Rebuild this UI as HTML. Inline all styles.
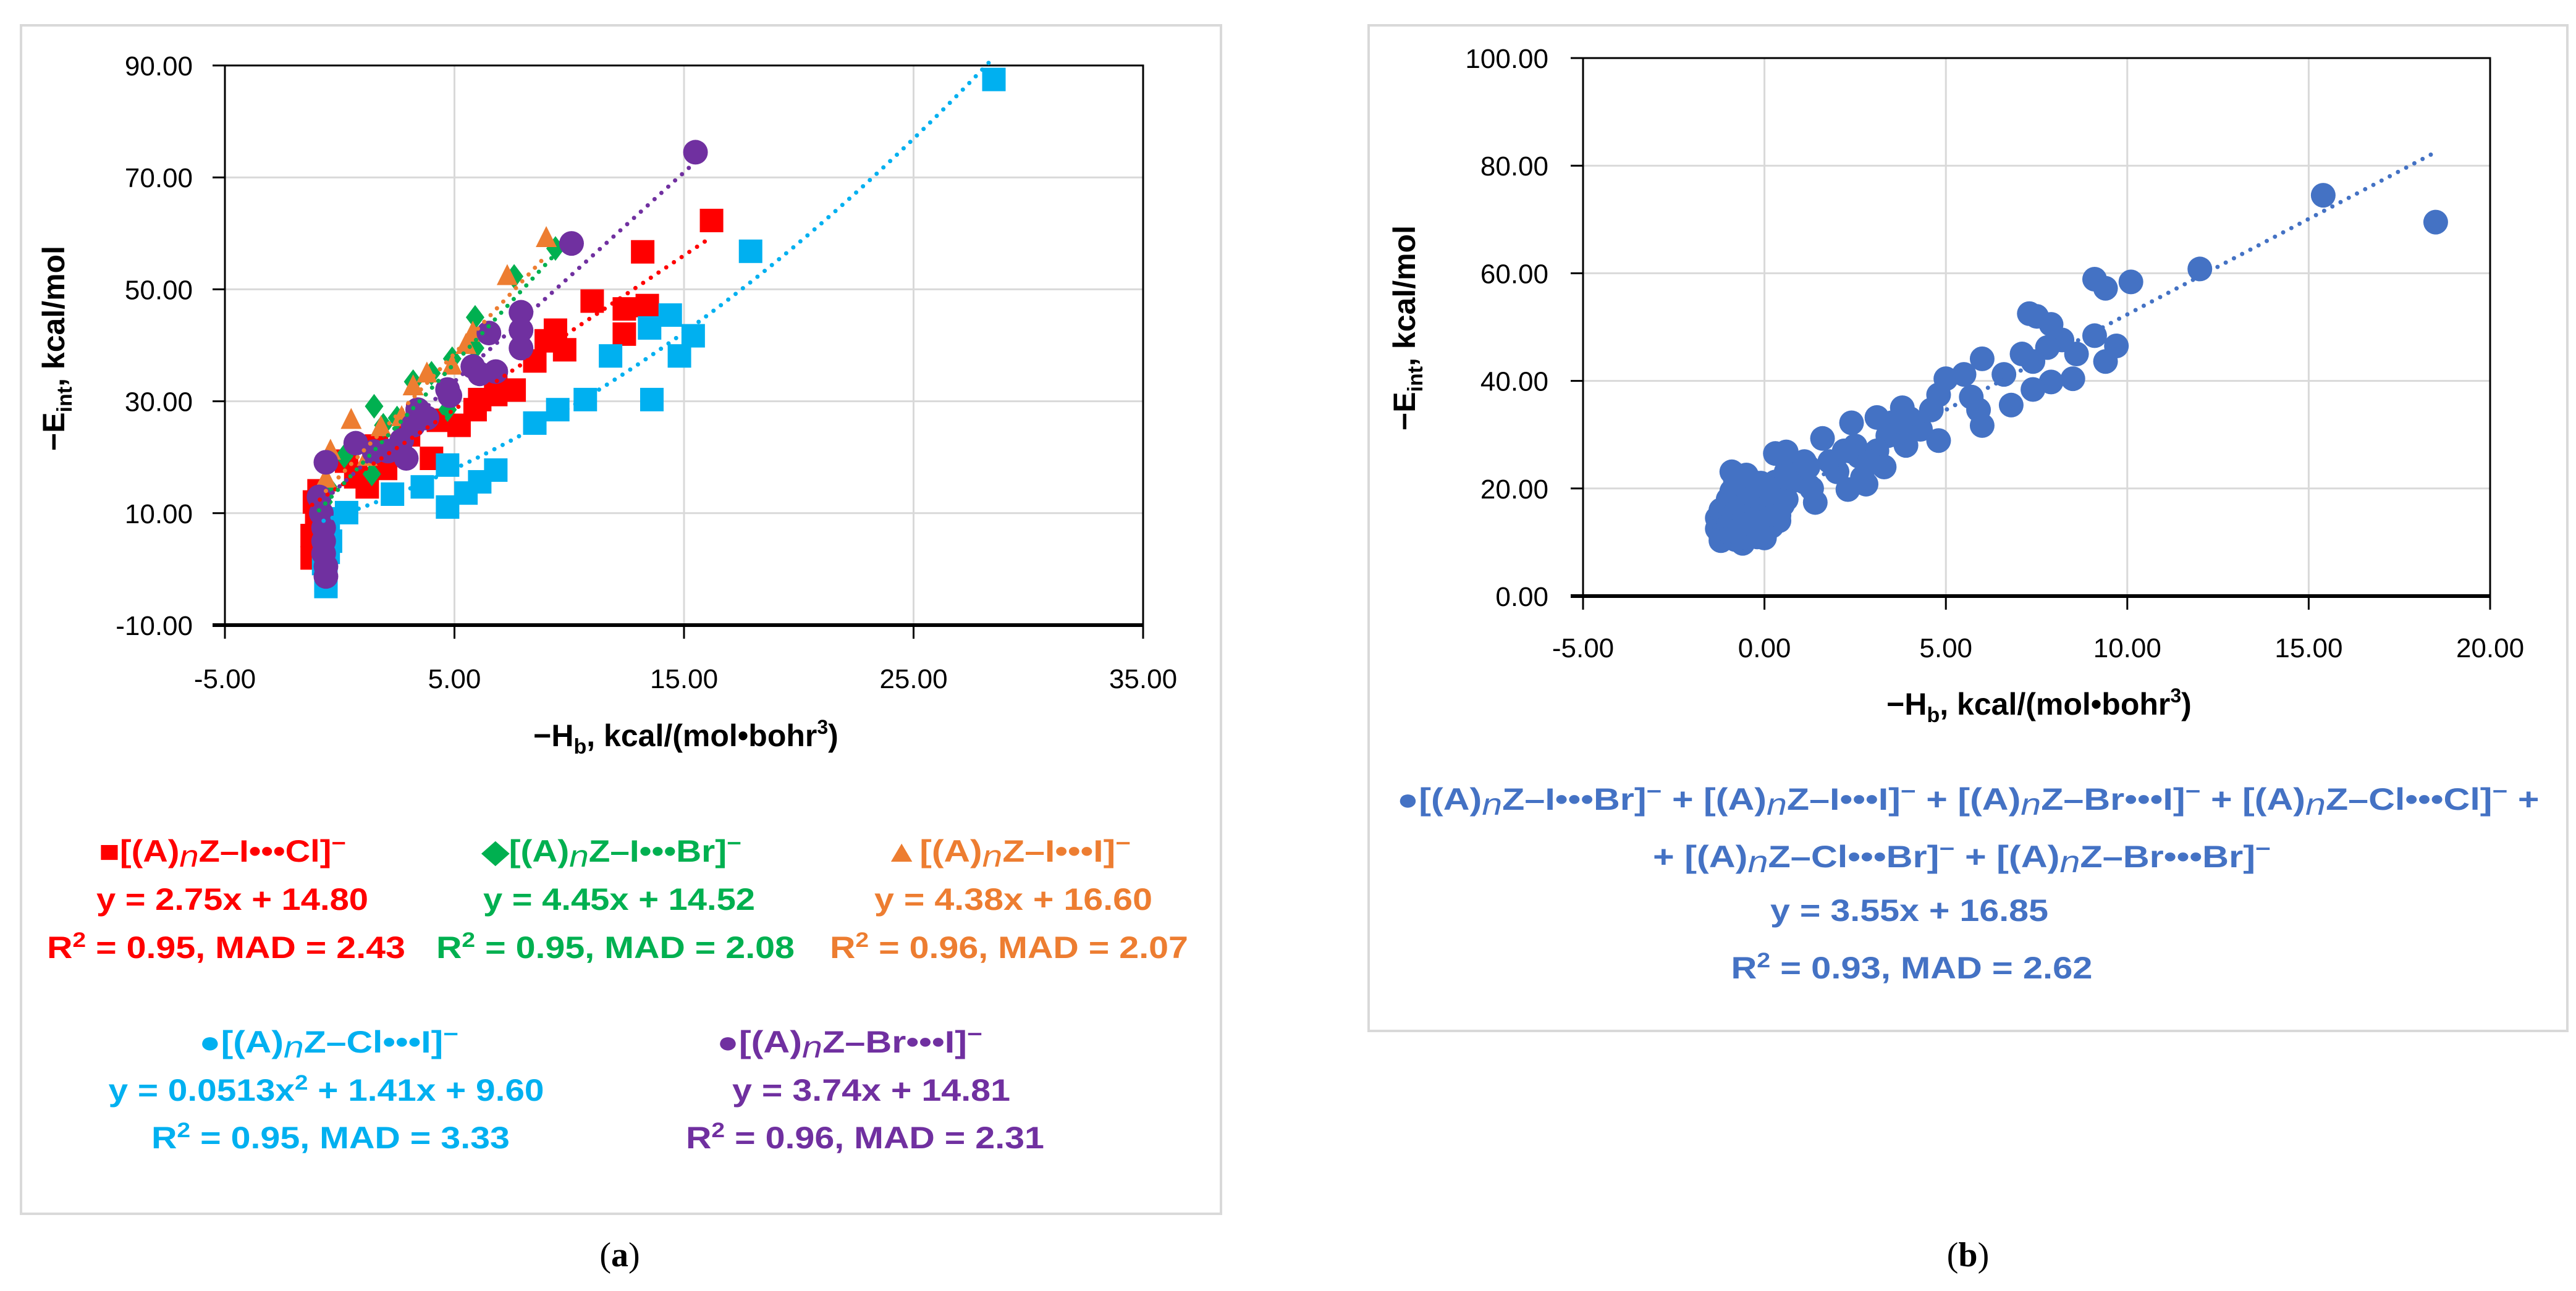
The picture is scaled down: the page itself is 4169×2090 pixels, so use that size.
<!DOCTYPE html>
<html><head><meta charset="utf-8">
<style>
html,body{margin:0;padding:0;background:#fff;}
svg{display:block;font-family:"Liberation Sans",sans-serif;}
.tick{font-size:44px;fill:#000;}
.ttl{font-size:50px;font-weight:bold;fill:#000;}
.lg{font-size:50px;font-weight:bold;}
.cap{font-family:"Liberation Serif",serif;font-size:56px;fill:#000;}
</style></head>
<body>
<svg id="fig" width="4169" height="2090" viewBox="0 0 4169 2090" xmlns="http://www.w3.org/2000/svg">
<rect x="0" y="0" width="4169" height="2090" fill="#fff"/>
<rect x="34" y="41" width="1942" height="1924" fill="#fff" stroke="#d9d9d9" stroke-width="4"/>
<rect x="2215" y="41" width="1940" height="1628" fill="#fff" stroke="#d9d9d9" stroke-width="4"/>
<g id="pa"></g>
<g id="pb"></g>

<text class="ttl" x="1110" y="1208" text-anchor="middle">−H<tspan font-size="34" dy="12">b</tspan><tspan dy="-12">, kcal/(mol•bohr</tspan><tspan font-size="32" dy="-20">3</tspan><tspan dy="20">)</tspan></text>
<text class="ttl" transform="translate(104,564) rotate(-90)" text-anchor="middle">−E<tspan font-size="34" dy="12">int</tspan><tspan dy="-12">, kcal/mol</tspan></text>
<text class="ttl" x="3300" y="1157" text-anchor="middle">−H<tspan font-size="34" dy="12">b</tspan><tspan dy="-12">, kcal/(mol•bohr</tspan><tspan font-size="32" dy="-20">3</tspan><tspan dy="20">)</tspan></text>
<text class="ttl" transform="translate(2290,531) rotate(-90)" text-anchor="middle">−E<tspan font-size="34" dy="12">int</tspan><tspan dy="-12">, kcal/mol</tspan></text>

<g>
<g fill="#ff0000" class="lg" text-anchor="middle">
<text x="360" y="1395" textLength="400" lengthAdjust="spacingAndGlyphs">■[(A)<tspan font-style="italic" font-weight="normal" dy="8">n</tspan><tspan dy="-8">Z–I•••Cl]</tspan><tspan dy="-18" font-size="36">−</tspan></text>
<text x="376" y="1473" textLength="440" lengthAdjust="spacingAndGlyphs">y = 2.75x + 14.80</text>
<text x="366" y="1551" textLength="580" lengthAdjust="spacingAndGlyphs">R<tspan font-size="34" dy="-18">2</tspan><tspan dy="18"> = 0.95, MAD = 2.43</tspan></text>
</g>
<g fill="#00b050" class="lg" text-anchor="middle">
<text x="990" y="1395" textLength="420" lengthAdjust="spacingAndGlyphs">◆[(A)<tspan font-style="italic" font-weight="normal" dy="8">n</tspan><tspan dy="-8">Z–I•••Br]</tspan><tspan dy="-18" font-size="36">−</tspan></text>
<text x="1002" y="1473" textLength="440" lengthAdjust="spacingAndGlyphs">y = 4.45x + 14.52</text>
<text x="996" y="1551" textLength="580" lengthAdjust="spacingAndGlyphs">R<tspan font-size="34" dy="-18">2</tspan><tspan dy="18"> = 0.95, MAD = 2.08</tspan></text>
</g>
<g fill="#ed7d31" class="lg" text-anchor="middle">
<text x="1630" y="1395" textLength="400" lengthAdjust="spacingAndGlyphs">▲[(A)<tspan font-style="italic" font-weight="normal" dy="8">n</tspan><tspan dy="-8">Z–I•••I]</tspan><tspan dy="-18" font-size="36">−</tspan></text>
<text x="1640" y="1473" textLength="450" lengthAdjust="spacingAndGlyphs">y = 4.38x + 16.60</text>
<text x="1633" y="1551" textLength="580" lengthAdjust="spacingAndGlyphs">R<tspan font-size="34" dy="-18">2</tspan><tspan dy="18"> = 0.96, MAD = 2.07</tspan></text>
</g>
<g fill="#00b0f0" class="lg" text-anchor="middle">
<text x="532" y="1704" textLength="420" lengthAdjust="spacingAndGlyphs">●[(A)<tspan font-style="italic" font-weight="normal" dy="8">n</tspan><tspan dy="-8">Z–Cl•••I]</tspan><tspan dy="-18" font-size="36">−</tspan></text>
<text x="528" y="1782" textLength="705" lengthAdjust="spacingAndGlyphs">y = 0.0513x<tspan font-size="34" dy="-18">2</tspan><tspan dy="18"> + 1.41x + 9.60</tspan></text>
<text x="535" y="1859" textLength="580" lengthAdjust="spacingAndGlyphs">R<tspan font-size="34" dy="-18">2</tspan><tspan dy="18"> = 0.95, MAD = 3.33</tspan></text>
</g>
<g fill="#7030a0" class="lg" text-anchor="middle">
<text x="1375" y="1704" textLength="430" lengthAdjust="spacingAndGlyphs">●[(A)<tspan font-style="italic" font-weight="normal" dy="8">n</tspan><tspan dy="-8">Z–Br•••I]</tspan><tspan dy="-18" font-size="36">−</tspan></text>
<text x="1410" y="1782" textLength="450" lengthAdjust="spacingAndGlyphs">y = 3.74x + 14.81</text>
<text x="1400" y="1859" textLength="580" lengthAdjust="spacingAndGlyphs">R<tspan font-size="34" dy="-18">2</tspan><tspan dy="18"> = 0.96, MAD = 2.31</tspan></text>
</g>
</g>

<g fill="#4472c4" class="lg" text-anchor="middle">
<text x="3185" y="1311" textLength="1849" lengthAdjust="spacingAndGlyphs">●[(A)<tspan font-style="italic" font-weight="normal" dy="8">n</tspan><tspan dy="-8">Z–I•••Br]</tspan><tspan dy="-18" font-size="36">−</tspan><tspan dy="18"> + [(A)</tspan><tspan font-style="italic" font-weight="normal" dy="8">n</tspan><tspan dy="-8">Z–I•••I]</tspan><tspan dy="-18" font-size="36">−</tspan><tspan dy="18"> + [(A)</tspan><tspan font-style="italic" font-weight="normal" dy="8">n</tspan><tspan dy="-8">Z–Br•••I]</tspan><tspan dy="-18" font-size="36">−</tspan><tspan dy="18"> + [(A)</tspan><tspan font-style="italic" font-weight="normal" dy="8">n</tspan><tspan dy="-8">Z–Cl•••Cl]</tspan><tspan dy="-18" font-size="36">−</tspan><tspan dy="18"> +</tspan></text>
<text x="3175" y="1404" textLength="1000" lengthAdjust="spacingAndGlyphs">+ [(A)<tspan font-style="italic" font-weight="normal" dy="8">n</tspan><tspan dy="-8">Z–Cl•••Br]</tspan><tspan dy="-18" font-size="36">−</tspan><tspan dy="18"> + [(A)</tspan><tspan font-style="italic" font-weight="normal" dy="8">n</tspan><tspan dy="-8">Z–Br•••Br]</tspan><tspan dy="-18" font-size="36">−</tspan></text>
<text x="3090" y="1491" textLength="450" lengthAdjust="spacingAndGlyphs">y = 3.55x + 16.85</text>
<text x="3094" y="1584" textLength="585" lengthAdjust="spacingAndGlyphs">R<tspan font-size="34" dy="-18">2</tspan><tspan dy="18"> = 0.93, MAD = 2.62</tspan></text>
</g>

<text class="cap" x="1003" y="2050" text-anchor="middle">(<tspan font-weight="bold">a</tspan>)</text>
<text class="cap" x="3185" y="2050" text-anchor="middle">(<tspan font-weight="bold">b</tspan>)</text>
</svg>
<script>
// ---- Panel A data ----
const aXTicks=[-5,5,15,25,35];
const aYTicks=[-10,10,30,50,70,90];
const aXTickLabels=["-5.00","5.00","15.00","25.00","35.00"];
const aYTickLabels=["-10.00","10.00","30.00","50.00","70.00","90.00"];
const redX=[16.2,13.2,11.0,12.4,13.4,12.4,9.4,9.8,8.5,9.0,7.6,6.8,6.1,6.8,5.9,5.2,4.3,3.4,4.0,1.2,0.7,0.3,-0.9,-1.2,-1.1,-1.2,-1.0,-1.1,-0.9,2.0,1.6,3.0];
const redY=[62.3,56.7,47.9,46.5,47.1,42.0,42.7,39.2,37.2,40.8,32,31.2,30.3,34,28.5,25.7,26.6,27.5,19.8,14.7,16.5,19.3,10.1,2,4,6,8,12,14,18,22,24];
const cyanX=[28.5,17.9,14.4,13.5,15.4,11.8,14.8,13.6,10.7,9.5,8.5,6.8,6.1,5.5,4.7,4.7,3.6,2.3,0.3,-0.6,-0.7,-0.6,-0.5,-0.4,-0.6,-0.5];
const cyanY=[87.5,56.8,45.4,43.1,41.7,38.1,38.1,30.3,30.3,28.5,26.1,17.7,15.6,13.6,18.6,11.1,14.7,13.4,10.1,-3.1,1,-2,3,5,7,9];
const greenX=[9.4,7.6,5.9,5.9,4.9,4.7,3.2,1.5,1.4,0.2,1.9,-0.5,-0.9,2.5,4.0,-0.7];
const greenY=[57.3,52.3,45,39.5,37.6,28.5,33.5,29.1,17,20.2,25.7,14.7,10.1,27,35,12];
const orangeX=[9.0,7.3,5.8,3.8,3.2,0.5,-0.4,-0.6,1.8,2.7,4.9,5.5,1.2];
const orangeY=[59.1,52.3,42.2,34.9,32.6,26.6,21.1,16.1,25.3,27.1,36.3,40,20];
const purpleX=[15.5,10.1,7.9,7.9,7.9,6.5,5.8,6.8,6.1,4.7,3.4,3.2,2.7,2.1,2.9,0.7,-0.6,-0.9,-0.7,-0.6,-0.7,-0.8,-0.7,-0.6,1.5,3.8,4.8];
const purpleY=[74.5,58.2,45.9,42.7,39.5,42.2,36.2,35.3,34.9,32.1,28.5,25.7,23,21.1,19.8,22.5,19.1,12.9,7.4,-1.3,2.8,10,5,0.5,21,27,31];
const redFit=[2.75,14.80], redRange=[-1.2,16.2];
const greenFit=[4.45,14.52], greenRange=[-0.9,9.4];
const orangeFit=[4.38,16.60], orangeRange=[-0.6,9.0];
const purpleFit=[3.74,14.81], purpleRange=[-0.9,15.5];
const cyanFit=[0.0513,1.41,9.60], cyanRange=[-0.7,28.5];

// ---- Panel B data ----
const bXTicks=[-5,0,5,10,15,20];
const bYTicks=[0,20,40,60,80,100];
const bXTickLabels=["-5.00","0.00","5.00","10.00","15.00","20.00"];
const bYTickLabels=["0.00","20.00","40.00","60.00","80.00","100.00"];
const blueX=[18.5,15.4,12.0,9.1,9.4,10.1,7.3,7.5,7.9,9.1,9.7,9.4,8.6,8.2,7.8,7.4,7.1,8.5,7.9,7.4,6.8,6.6,6.0,5.5,6.0,5.9,5.7,5.0,4.8,4.6,3.8,4.8,4.2,3.5,3.1,3.4,3.1,2.9,2.8,2.5,2.4,2.2,2.0,2.3,1.6,1.4,1.1,1.1,0.6,0.6,0.3,0.3,-0.9,
-1.2,-0.6,0.0,-1.3,-1.2,-1.0,-0.8,-0.6,-0.4,-0.2,0.0,0.2,0.4,
-1.1,-0.9,-0.7,-0.5,-0.3,-0.1,0.1,0.3,
-1.0,-0.8,-0.6,-0.4,-0.2,0.0,0.2,
-0.9,-0.7,-0.5,-0.3,-0.1,0.1,
-0.6,-0.4,0.5,0.8,1.0,1.3,4.3,3.9,3.3,2.7,
-1.3,-1.1,-0.9,-0.7,-0.5,-0.3,-0.1,0.1,0.3,0.5,
-1.2,-1.0,-0.8,-0.6,-0.4,-0.2,0.0,0.2,0.4,
-1.0,-0.8,-0.6,-0.4,-0.2,0.0,0.2,0.4,0.6,
-0.8,-0.5,-0.2,0.1,0.7,1.2,1.8,2.6,3.6,4.0];
const blueY=[69.5,74.5,60.8,58.9,57.2,58.4,52.5,52,50.5,48.4,46.5,43.6,45,47.6,46.2,43.6,45,40.4,39.8,38.4,35.5,41.2,44.1,41.2,31.7,34.6,37,40.4,37.4,34.6,35,28.9,31.7,32.2,33.2,29.8,27,25,20.8,27.9,32.2,27,23.1,19.8,29.3,17.4,25,21.2,23.1,26.8,26.5,21.2,23.1,
10.3,9.8,10.8,14.5,11,12,10.5,11.5,12.5,11,12,13,14,
16,15,14,13.5,15.5,16,15,17,
18,17.5,18.5,17,16.5,19,20,
19.5,20.5,19,18,21,20,
17,18,19.5,21.5,23,20,31,28,24,22,
12.5,13,14,12,13,11.5,13,14,16,17,
16,17,15.5,16.5,15,14.5,17.5,18,19,
13,12,11,13.5,12.5,15,16.5,15,18,
21.5,22.5,21,20,22,24,25,26,30,33];
const blueFit=[3.55,16.85], blueRange=[-1.3,18.5];

const NS='http://www.w3.org/2000/svg';
function mk(tag,attrs,parent){const e=document.createElementNS(NS,tag);for(const k in attrs)e.setAttribute(k,attrs[k]);parent.appendChild(e);return e;}

const A={x0:364,x1:1850,y0:1012,y1:106,xmin:-5,xmax:35,ymin:-10,ymax:90};
const B={x0:2562,x1:4030,y0:965,y1:94,xmin:-5,xmax:20,ymin:0,ymax:100};
function sx(P,v){return P.x0+(v-P.xmin)*(P.x1-P.x0)/(P.xmax-P.xmin);}
function sy(P,v){return P.y0-(v-P.ymin)*(P.y0-P.y1)/(P.ymax-P.ymin);}

function drawAxes(P,g,xt,yt,xl,yl,xlabY,ylabX,prefix){
  xt.forEach((v,i)=>{
    if(i>0&&i<xt.length-1){const l=mk('line',{x1:sx(P,v),x2:sx(P,v),y1:P.y0,y2:P.y1,stroke:'#d9d9d9','stroke-width':3},g);
    
    }
  });
  yt.forEach((v,i)=>{
    if(i>0&&i<yt.length-1){const l=mk('line',{x1:P.x0,x2:P.x1,y1:sy(P,v),y2:sy(P,v),stroke:'#d9d9d9','stroke-width':3},g);
    
    }
  });
  const box=mk('rect',{x:P.x0,y:P.y1,width:P.x1-P.x0,height:P.y0-P.y1,fill:'none',stroke:'#000','stroke-width':3},g);
  
  
  const xa=mk('line',{x1:P.x0-20,x2:P.x1,y1:P.y0,y2:P.y0,stroke:'#000','stroke-width':6},g);
  
  
  xt.forEach((v,i)=>{
    const t=mk('line',{x1:sx(P,v),x2:sx(P,v),y1:P.y0,y2:P.y0+22,stroke:'#000','stroke-width':3},g);
    
    
    const tx=mk('text',{x:sx(P,v),y:xlabY,'text-anchor':'middle','class':'tick'},g);
    tx.textContent=xl[i];
    
    
  });
  yt.forEach((v,i)=>{
    const t=mk('line',{x1:P.x0-20,x2:P.x0,y1:sy(P,v),y2:sy(P,v),stroke:'#000','stroke-width':3},g);
    
    
    const tx=mk('text',{x:ylabX,y:sy(P,v)+16,'text-anchor':'end','class':'tick'},g);
    tx.textContent=yl[i];
    
    
  });
}

function marker(P,g,shape,x,y,color,name){
  const cx=sx(P,x),cy=sy(P,y);let e;
  if(shape==='square')e=mk('rect',{x:cx-19,y:cy-19,width:38,height:38,fill:color},g);
  else if(shape==='diamond')e=mk('polygon',{points:`${cx},${cy-20} ${cx+15},${cy} ${cx},${cy+20} ${cx-15},${cy}`,fill:color},g);
  else if(shape==='triangle')e=mk('polygon',{points:`${cx},${cy-20} ${cx+17},${cy+14} ${cx-17},${cy+14}`,fill:color},g);
  else e=mk('circle',{cx:cx,cy:cy,r:20,fill:color},g);
  
  
}
function series(P,g,xs,ys,shape,color,name){const n=Math.min(xs.length,ys.length);for(let i=0;i<n;i++)marker(P,g,shape,xs[i],ys[i],color,name);}
function trend(P,g,coef,range,color,name){
  const pts=[];const n=60;
  for(let i=0;i<=n;i++){const x=range[0]+(range[1]-range[0])*i/n;let y=0;coef.forEach(c=>{y=y*x+c;});pts.push(sx(P,x)+','+sy(P,y));}
  const p=mk('polyline',{points:pts.join(' '),fill:'none',stroke:color,'stroke-width':7,'stroke-linecap':'round','stroke-dasharray':'0 15'},g);
  
  
}

const ga=document.getElementById('pa');
drawAxes(A,ga,aXTicks,aYTicks,aXTickLabels,aYTickLabels,1114,312,'panel-a');
series(A,ga,redX,redY,'square','#ff0000','point-i-cl');
series(A,ga,cyanX,cyanY,'square','#00b0f0','point-cl-i');
series(A,ga,greenX,greenY,'diamond','#00b050','point-i-br');
series(A,ga,orangeX,orangeY,'triangle','#ed7d31','point-i-i');
series(A,ga,purpleX,purpleY,'circle','#7030a0','point-br-i');
trend(A,ga,redFit,redRange,'#ff0000','trendline-i-cl');
trend(A,ga,greenFit,greenRange,'#00b050','trendline-i-br');
trend(A,ga,orangeFit,orangeRange,'#ed7d31','trendline-i-i');
trend(A,ga,cyanFit,cyanRange,'#00b0f0','trendline-cl-i');
trend(A,ga,purpleFit,purpleRange,'#7030a0','trendline-br-i');

const gb=document.getElementById('pb');
drawAxes(B,gb,bXTicks,bYTicks,bXTickLabels,bYTickLabels,1064,2506,'panel-b');
series(B,gb,blueX,blueY,'circle','#4472c4','point-combined');
trend(B,gb,blueFit,blueRange,'#4472c4','trendline-combined');
</script>
</body></html>
